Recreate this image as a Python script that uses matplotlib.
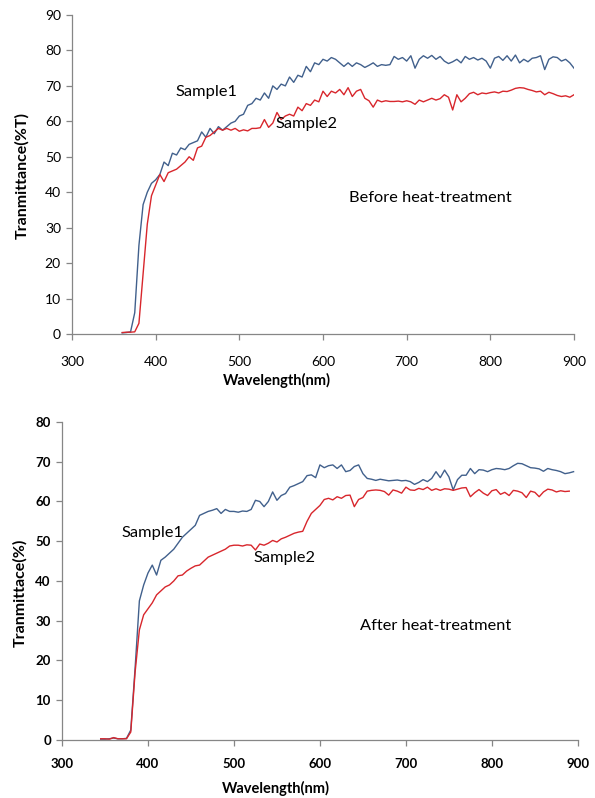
import numpy as np
import matplotlib
matplotlib.use("Agg")
import matplotlib.pyplot as plt

plt.rcParams['font.family'] = ['Lato', 'DejaVu Sans']

# before heat-treatment, 360..900 nm every 5 nm
wl_before = np.arange(360, 905, 5)
before_s1 = [0.3, 0.4, 0.6, 6, 25, 36.5, 40, 42.5, 43.5, 45,
             48.5, 47.5, 51, 50.5, 52.5, 52, 53.5, 54, 54.5, 57,
             55.5, 58, 56.5, 58.5, 57.5, 58.5, 59.5, 60, 61.5, 62,
             64.5, 65, 66.5, 66, 68, 66.5, 70, 69, 70.5, 70,
             72.5, 71, 73, 72.5, 75.5, 74, 76.5, 76, 77.5, 77,
             78, 77.5, 76.5, 75.5, 76.5, 75.5, 76.5, 76, 75.2, 75.8,
             76.5, 75.5, 76, 75.8, 76, 78.3, 77.5, 78, 77, 78.5,
             75, 77.5, 78.5, 77.8, 78.6, 77.5, 78.3, 77, 76.3, 76.8,
             77.5, 76.5, 78.3, 77.5, 78, 77.3, 77.8, 77, 75, 77.8,
             78.3, 77.2, 78.5, 77, 78.7, 76.5, 77.5, 76.8, 77.8, 78,
             78.5, 74.6, 77.5, 78.2, 78, 77, 77.5, 76.5, 75]
before_s2 = [0.4, 0.5, 0.5, 0.6, 3, 17, 31, 39, 42, 45,
             43, 45.5, 46, 46.5, 47.5, 48.5, 50, 49, 52.5, 53,
             55.5, 56, 57, 58, 57.5, 58, 57.5, 58, 57.2, 57.6,
             57.3, 58, 58, 58.2, 60.5, 58.3, 59.5, 62.5, 60.5, 61.5,
             62, 61.5, 64, 63, 65, 64.5, 66, 65.5, 68.5, 67,
             68.5, 68, 69, 67.5, 69.5, 67, 68.5, 69, 66.5, 65.8,
             64, 66, 65.5, 65.8, 65.6, 65.6, 65.7, 65.5, 65.8, 65.5,
             64.8, 66, 65.5, 66, 66.5, 66, 66.4, 67.5, 66.8, 63.2,
             67.5, 65.5, 66.5, 67.8, 68.2, 67.5, 68, 67.8, 68.1, 68.3,
             68, 68.5, 68.4, 68.8, 69.3, 69.5, 69.4, 69, 68.7, 68.3,
             68.5, 67.5, 68.2, 67.8, 67.3, 67, 67.2, 66.8, 67.5]

# after heat-treatment
wl_after_s1 = np.arange(345, 900, 5)
after_s1 = [0.2, 0.2, 0.3, 0.5, 0.3, 0.3, 0.4, 2.5, 18, 35,
            39, 42, 44, 41.5, 45.2, 46, 47, 48, 49.5, 51,
            52, 53, 54, 56.5, 57, 57.5, 57.8, 58.2, 57, 58,
            57.5, 57.5, 57.3, 57.6, 57.5, 58, 60.3, 60, 58.7, 60,
            62.4, 60.3, 61.5, 62, 63.6, 64, 64.5, 65, 66.5, 66.7,
            66, 69.2, 68.5, 69, 69.2, 68.3, 69.2, 67.5, 67.8, 68.8,
            69.2, 67, 65.8, 65.6, 65.3, 65.6, 65.4, 65.2, 65.3, 65.4,
            65.2, 65.3, 65, 64.3, 64.8, 65.5, 65, 65.8, 67.5, 66,
            67.9, 66.2, 62.9, 65.5, 66.6, 66.6, 68.3, 67, 68, 67.9,
            67.5, 68, 68.3, 68.2, 68, 68.3, 69, 69.6, 69.5, 69,
            68.5, 68.4, 68.2, 67.6, 68.3, 68, 67.8, 67.5, 67, 67.2, 67.5]
wl_after_s2 = np.arange(345, 895, 5)
after_s2 = [0.3, 0.3, 0.2, 0.6, 0.3, 0.3, 0.3, 2, 17, 27.7,
            31.5, 33, 34.5, 36.5, 37.5, 38.5, 39, 40, 41.3, 41.5,
            42.5, 43.2, 43.8, 44, 45, 46, 46.5, 47, 47.5, 48,
            48.8, 49, 49, 48.8, 49.1, 49, 47.8, 49.3, 49, 49.5,
            50.2, 49.8, 50.6, 51, 51.5, 52, 52.3, 52.5, 55, 57,
            58, 59, 60.5, 60.8, 60.4, 61.2, 60.8, 61.5, 61.6, 58.7,
            60.5, 61, 62.6, 62.8, 62.9, 62.8, 62.5, 61.6, 62.9, 62.6,
            62.1, 63.6, 62.9, 62.8, 63.3, 63, 63.6, 62.8, 63.2, 62.8,
            63.2, 63.1, 62.8, 63.1, 63.4, 63.5, 61.2, 62.2, 63, 62.1,
            61.5, 62.7, 63, 61.8, 62.3, 61.5, 62.8, 62.6, 62.2, 61,
            62.6, 62.3, 61.2, 62.4, 63.1, 62.9, 62.4, 62.7, 62.5, 62.6]

blue = '#41608C'
red = '#D8262C'
grey = '#868686'


def style_axes(ax, ymax, bold_ticks, xpad):
    ax.set_xlim(300, 900)
    ax.set_ylim(0, ymax)
    ax.set_xticks(range(300, 1000, 100))
    ax.set_yticks(range(0, ymax + 1, 10))
    for side in ('top', 'right'):
        ax.spines[side].set_visible(False)
    for side in ('left', 'bottom'):
        ax.spines[side].set_color(grey)
        ax.spines[side].set_linewidth(0.9)
    ax.tick_params(direction='out', length=4, width=0.9, color=grey,
                   labelsize=10 if not bold_ticks else 9.5, pad=4)
    ax.tick_params(axis='x', pad=xpad)
    if bold_ticks:
        for lab in ax.get_xticklabels() + ax.get_yticklabels():
            lab.set_fontweight('bold')


fig = plt.figure(figsize=(5.95, 7.98), dpi=100)

ax1 = fig.add_axes([0.121, 0.5815, 0.8437, 0.3997])
ax1.plot(wl_before, before_s1, color=blue, lw=1.0)
ax1.plot(wl_before, before_s2, color=red, lw=1.0)
style_axes(ax1, 90, False, 12)
ax1.set_xlabel('Wavelength(nm)', fontweight='bold', fontsize=10.5, va='center')
ax1.xaxis.set_label_coords(0.408, -0.147)
ax1.set_ylabel('Tranmittance(%T)', fontweight='bold', fontsize=11.5, va='center')
ax1.yaxis.set_label_coords(-0.0996, 0.498)
ax1.text(461, 68.3, 'Sample1', ha='center', va='center', fontsize=11.8)
ax1.text(580, 59.3, 'Sample2', ha='center', va='center', fontsize=11.8)
ax1.text(728, 38.4, 'Before heat-treatment', ha='center', va='center', fontsize=11.8)

ax2 = fig.add_axes([0.1042, 0.0727, 0.867, 0.3985])
ax2.plot(wl_after_s1, after_s1, color=blue, lw=1.0)
ax2.plot(wl_after_s2, after_s2, color=red, lw=1.0)
style_axes(ax2, 80, True, 9)
ax2.set_xlabel('Wavelength(nm)', fontweight='bold', fontsize=10.5, va='center')
ax2.xaxis.set_label_coords(0.415, -0.151)
ax2.set_ylabel('Tranmittace(%)', fontweight='bold', fontsize=11.5, va='center')
ax2.yaxis.set_label_coords(-0.081, 0.462)
ax2.text(405, 52.1, 'Sample1', ha='center', va='center', fontsize=11.8)
ax2.text(559, 45.8, 'Sample2', ha='center', va='center', fontsize=11.8)
ax2.text(734, 28.7, 'After heat-treatment', ha='center', va='center', fontsize=11.8)

fig.savefig('out.png', dpi=100)
